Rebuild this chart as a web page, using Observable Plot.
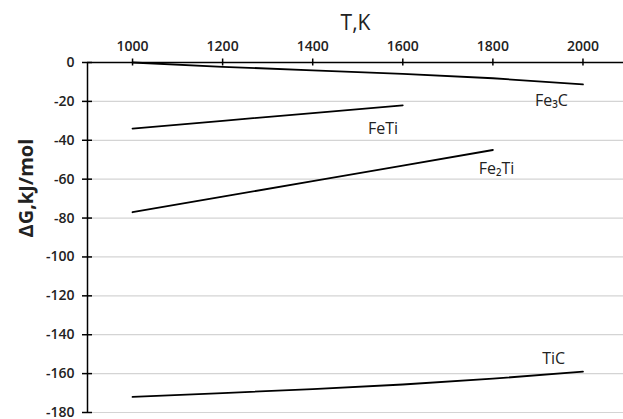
<!DOCTYPE html>
<html>
<head>
<meta charset="utf-8">
<script src="https://cdn.jsdelivr.net/npm/d3@7"></script>
<script src="https://cdn.jsdelivr.net/npm/@observablehq/plot@0.6"></script>
<style>
  html, body { margin: 0; padding: 0; background: #fff; }
  #chart svg { display: block; }
</style>
</head>
<body>
<div id="chart"></div>
<script>
// ---- data ----
const temps = [1000, 1200, 1400, 1600, 1800, 2000];
const fe3cValues = [0, -2.2, -4.0, -5.9, -8.1, -11.3];
const fetiValues = [-34, -30, -26, -22];
const fe2tiValues = [-77, -69, -61, -53, -45];
const ticValues = [-172, -170, -168, -165.6, -162.6, -159];

const seriesNames = ["Fe₃C", "FeTi", "Fe₂Ti", "TiC"];
const seriesValues = [fe3cValues, fetiValues, fe2tiValues, ticValues];
const labelT = [1930, 1556, 1808, 1935];
const labelG = [-19.6, -34, -54.5, -152.4];

const xTicks = [1000, 1200, 1400, 1600, 1800, 2000];
const yTicks = [0, -20, -40, -60, -80, -100, -120, -140, -160, -180];
const xTitle = "T,K";
const yTitle = "ΔG,kJ/mol";

// ---- build tables ----
const rows = [];
seriesNames.forEach((name, s) => {
  seriesValues[s].forEach((v, i) => rows.push({ series: name, T: temps[i], G: v }));
});
const labels = seriesNames.map((name, i) => ({ name, T: labelT[i], G: labelG[i] }));

const font = "'Open Sans', 'DejaVu Sans', sans-serif";

const chart = Plot.plot({
  width: 623,
  height: 419,
  marginLeft: 87,
  marginTop: 62,
  marginRight: 0,
  marginBottom: 7,
  x: { domain: [900, 2090], axis: null },
  y: { domain: [-180, 0], axis: null },
  style: { fontFamily: font, background: "#fff", color: "#000" },
  marks: [
    // gridlines
    Plot.ruleY(yTicks.filter(d => d !== 0), { y: d => d, x1: 900, x2: 2090, stroke: "#d4d4d4", strokeWidth: 1.2 }),
    // axis lines
    Plot.ruleY([0], { y: d => d, x1: 900, x2: 2090, stroke: "#000", strokeWidth: 1.5 }),
    Plot.ruleX([900], { x: d => d, y1: -180, y2: 0, stroke: "#000", strokeWidth: 1.5 }),
    // tick marks crossing axes
    Plot.ruleX(xTicks, { x: d => d, y1: 0, y2: 0, insetTop: -3.5, insetBottom: -3.5, stroke: "#000", strokeWidth: 1.5 }),
    Plot.ruleY(yTicks, { y: d => d, x1: 900, x2: 900, insetLeft: -5, insetRight: -5, stroke: "#000", strokeWidth: 1.5 }),
    // tick labels
    Plot.text(xTicks, { x: d => d, y: 0, text: d => String(d), dy: -12, lineAnchor: "bottom", fontSize: 14, fontWeight: 600, fill: "#222" }),
    Plot.text(yTicks, { x: 900, y: d => d, text: d => String(d), dx: -13, textAnchor: "end", fontSize: 14, fontWeight: 600, fill: "#222" }),
    // axis titles
    Plot.text([xTitle], { frameAnchor: "top", text: d => d, dy: -33, lineAnchor: "bottom", fontSize: 21, fill: "#222" }),
    Plot.text([yTitle], { frameAnchor: "left", text: d => d, dx: -55, rotate: -90, lineAnchor: "bottom", fontSize: 20, fontWeight: 700, fill: "#222" }),
    // series lines
    Plot.line(rows, { x: "T", y: "G", z: "series", stroke: "#000", strokeWidth: 1.8 }),
    // series labels
    Plot.text(labels, { x: "T", y: "G", text: "name", fontSize: 16, fill: "#222" })
  ]
});

document.getElementById("chart").appendChild(chart);
</script>
</body>
</html>
